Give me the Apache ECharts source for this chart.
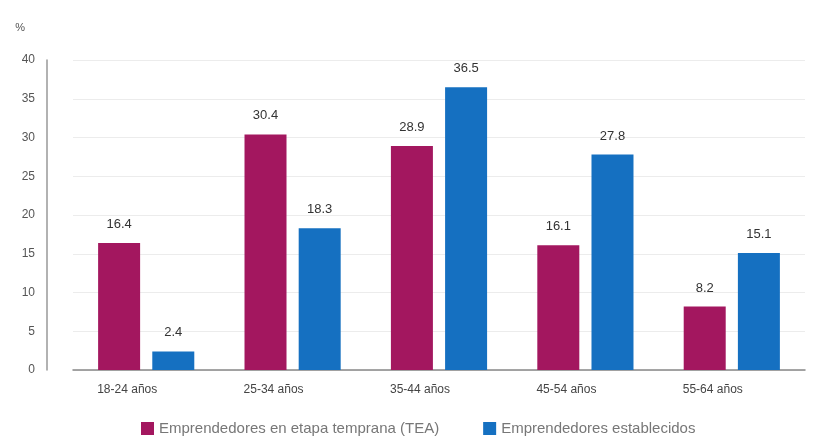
<!DOCTYPE html>
<html>
<head>
<meta charset="utf-8">
<script src="https://cdn.jsdelivr.net/npm/echarts@6/dist/echarts.min.js"></script>
<style>
  html, body { margin: 0; padding: 0; background: #fff; }
  #chart { width: 816px; height: 448px; }
</style>
</head>
<body>
<div id="chart"></div>
<script>
var categories = ['18-24 años', '25-34 años', '35-44 años', '45-54 años', '55-64 años'];
var teaValues = [16.4, 30.4, 28.9, 16.1, 8.2];
var establishedValues = [2.4, 18.3, 36.5, 27.8, 15.1];
var seriesNames = ['Emprendedores en etapa temprana (TEA)', 'Emprendedores establecidos'];

var chart = echarts.init(document.getElementById('chart'));

var labelStyle = {
    show: true,
    position: 'top',
    distance: 12,
    color: '#333',
    fontSize: 13,
    fontFamily: 'Liberation Sans Narrow, Liberation Sans, sans-serif'
};

chart.setOption({
    animation: false,
    grid: {
        left: 73,
        right: 11,
        top: 60,
        bottom: 78
    },
    legend: {
        bottom: 7,
        left: 136,
        itemWidth: 13,
        itemHeight: 13,
        itemGap: 44,
        itemTextGap: 5,
        icon: 'rect',
        textStyle: {
            color: '#777',
            fontSize: 15,
            fontFamily: 'Liberation Sans, sans-serif'
        }
    },
    xAxis: {
        type: 'category',
        data: categories,
        axisTick: { show: false },
        axisLine: { lineStyle: { color: '#888', width: 1.5 } },
        axisLabel: {
            color: '#444',
            fontSize: 12,
            margin: 14,
            padding: [0, 38, 0, 0],
            fontFamily: 'Liberation Sans Narrow, Liberation Sans, sans-serif'
        }
    },
    yAxis: {
        type: 'value',
        min: 0,
        max: 40,
        interval: 5,
        offset: 26,
        name: '%',
        nameLocation: 'end',
        nameGap: 27,
        nameTextStyle: { color: '#555', fontSize: 11, align: 'right', padding: [0, 22, 0, 0] },
        axisLine: { show: true, lineStyle: { color: '#999', width: 1.5 } },
        axisTick: { show: false },
        axisLabel: {
            color: '#555',
            fontSize: 12,
            margin: 12,
            fontFamily: 'Liberation Sans, sans-serif'
        },
        splitLine: { lineStyle: { color: '#ececec' } }
    },
    series: [
        {
            name: seriesNames[0],
            type: 'bar',
            data: teaValues,
            barWidth: 42,
            barGap: '29%',
            itemStyle: { color: '#a3175f' },
            label: labelStyle
        },
        {
            name: seriesNames[1],
            type: 'bar',
            data: establishedValues,
            barWidth: 42,
            itemStyle: { color: '#1570c1' },
            label: labelStyle
        }
    ]
});
</script>
</body>
</html>
